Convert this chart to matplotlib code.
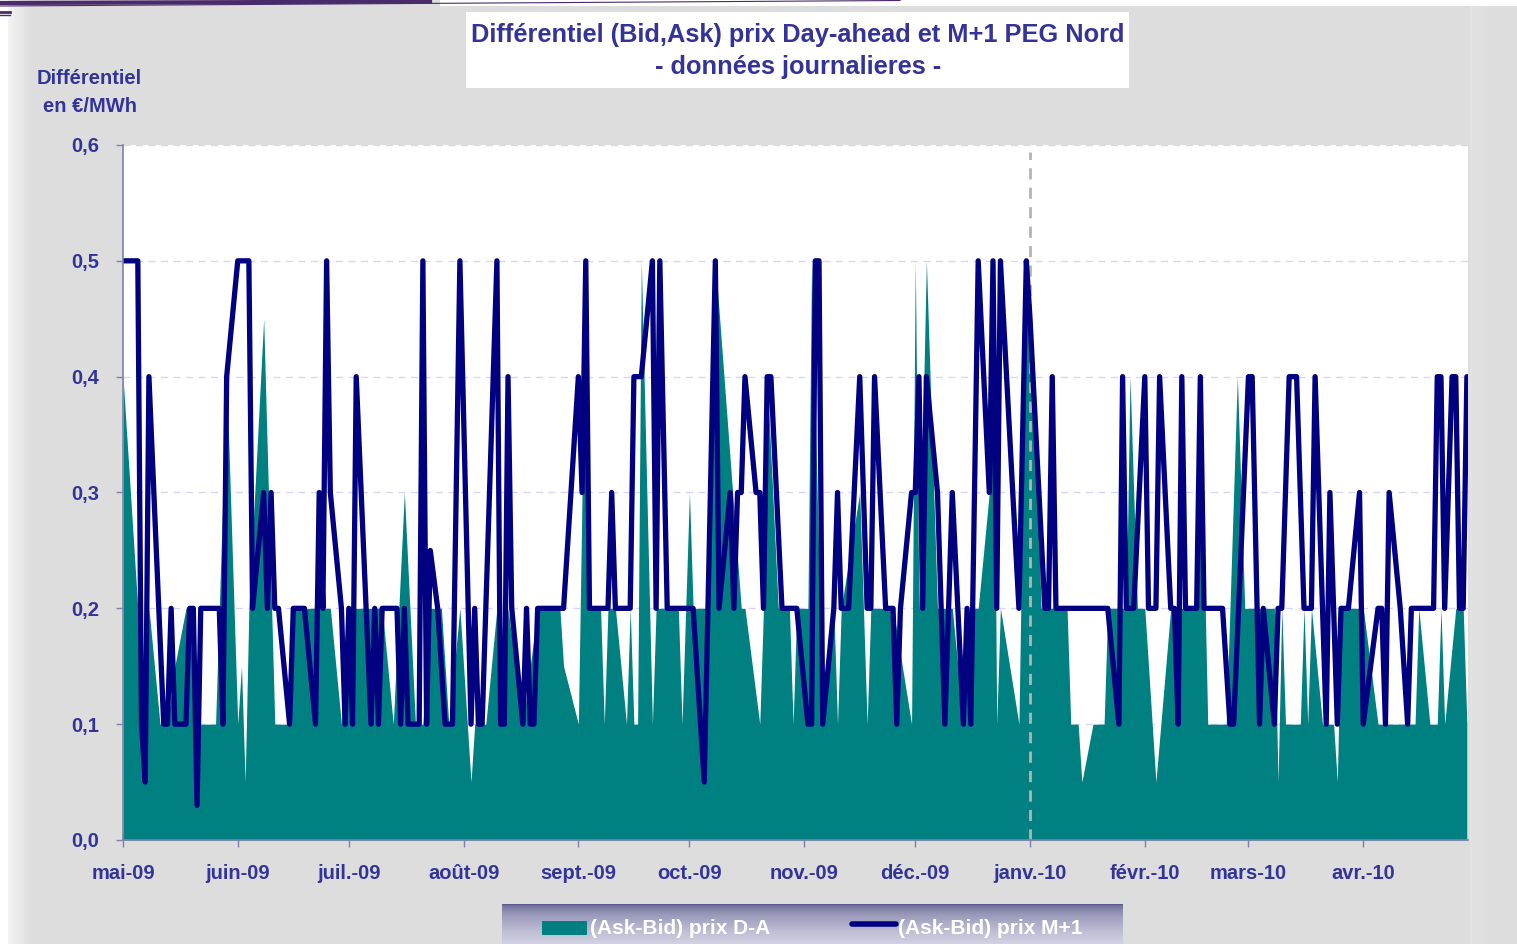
import numpy as np
import matplotlib
matplotlib.use("Agg")
import matplotlib.pyplot as plt
import matplotlib.dates as mdates
from matplotlib.patches import Rectangle
from matplotlib.lines import Line2D

# --- data (day offset from 1 May 2009, value in EUR/MWh) ---
START = np.datetime64("2009-05-01")

M1_DAYS = [0, 4, 5, 6, 7, 11, 12, 13, 14, 17, 18, 19, 20, 21, 26, 27, 28, 31, 34, 35,
           38, 39, 40, 41, 42, 45, 46, 49, 52, 53, 54, 55, 56, 59, 60, 61, 62, 63, 67, 68,
           69, 70, 74, 75, 76, 77, 80, 81, 82, 83, 85, 87, 89, 91, 94, 95, 96, 97, 101, 102,
           103, 104, 105, 108, 109, 110, 111, 112, 119, 123, 124, 125, 126, 131, 132, 133, 137, 138, 140, 143,
           144, 145, 147, 154, 157, 160, 161, 164, 165, 166, 167, 168, 171, 172, 173, 174, 175, 178, 182, 185,
           186, 187, 188, 189, 192, 193, 194, 196, 199, 201, 202, 203, 206, 208, 209, 210, 213, 214, 215, 216,
           217, 220, 222, 224, 227, 228, 229, 231, 234, 235, 236, 237, 242, 244, 245, 249, 250, 251, 252, 266,
           269, 270, 271, 273, 276, 277, 279, 280, 283, 284, 285, 286, 287, 290, 291, 292, 297, 299, 300, 304,
           305, 307, 308, 311, 312, 313, 315, 317, 319, 321, 322, 325, 326, 328, 329, 331, 334, 335, 339, 340,
           341, 342, 345, 347, 348, 354, 355, 356, 357, 359, 360, 361, 362, 363]
M1_VALS = [0.5, 0.5, 0.1, 0.05, 0.4, 0.1, 0.1, 0.2, 0.1, 0.1, 0.2, 0.2, 0.03, 0.2, 0.2, 0.1, 0.4, 0.5, 0.5, 0.2,
           0.3, 0.2, 0.3, 0.2, 0.2, 0.1, 0.2, 0.2, 0.1, 0.3, 0.2, 0.5, 0.3, 0.2, 0.1, 0.2, 0.1, 0.4, 0.1, 0.2,
           0.1, 0.2, 0.2, 0.1, 0.2, 0.1, 0.1, 0.5, 0.1, 0.25, 0.2, 0.1, 0.1, 0.5, 0.1, 0.2, 0.1, 0.1, 0.5, 0.1,
           0.1, 0.4, 0.2, 0.1, 0.2, 0.1, 0.1, 0.2, 0.2, 0.4, 0.3, 0.5, 0.2, 0.2, 0.3, 0.2, 0.2, 0.4, 0.4, 0.5,
           0.2, 0.5, 0.2, 0.2, 0.05, 0.5, 0.2, 0.3, 0.2, 0.3, 0.3, 0.4, 0.3, 0.3, 0.2, 0.4, 0.4, 0.2, 0.2, 0.1,
           0.1, 0.5, 0.5, 0.1, 0.2, 0.3, 0.2, 0.2, 0.4, 0.2, 0.2, 0.4, 0.2, 0.2, 0.1, 0.2, 0.3, 0.3, 0.4, 0.2,
           0.4, 0.3, 0.1, 0.3, 0.1, 0.2, 0.1, 0.5, 0.3, 0.5, 0.2, 0.5, 0.2, 0.5, 0.45, 0.2, 0.2, 0.4, 0.2, 0.2,
           0.1, 0.4, 0.2, 0.2, 0.4, 0.2, 0.2, 0.4, 0.2, 0.2, 0.1, 0.4, 0.2, 0.2, 0.4, 0.2, 0.2, 0.1, 0.1, 0.4,
           0.4, 0.1, 0.2, 0.1, 0.2, 0.2, 0.4, 0.4, 0.2, 0.2, 0.4, 0.1, 0.3, 0.1, 0.2, 0.2, 0.3, 0.1, 0.2, 0.2,
           0.1, 0.3, 0.2, 0.1, 0.2, 0.2, 0.4, 0.4, 0.2, 0.4, 0.4, 0.2, 0.2, 0.4]

DA_DAYS = [0, 4, 5, 6, 7, 10, 12, 14, 17, 19, 20, 21, 25, 28, 31, 32, 33, 34, 38, 41,
           45, 46, 56, 59, 61, 70, 73, 76, 79, 81, 83, 86, 88, 91, 94, 95, 98, 101, 102, 104,
           108, 112, 118, 119, 123, 125, 126, 129, 130, 131, 133, 136, 137, 138, 139, 140, 143, 144, 150, 151,
           153, 154, 158, 160, 167, 168, 172, 173, 174, 177, 180, 181, 182, 185, 186, 189, 192, 193, 194, 199,
           201, 202, 208, 213, 214, 215, 217, 220, 224, 227, 229, 231, 234, 235, 236, 237, 242, 244, 246, 248,
           255, 256, 258, 259, 262, 265, 266, 271, 272, 274, 276, 279, 283, 290, 291, 293, 298, 301, 303, 306,
           311, 312, 313, 314, 318, 319, 320, 321, 324, 327, 328, 329, 332, 335, 339, 349, 350, 353, 355, 356,
           357, 360, 362, 363]
DA_VALS = [0.4, 0.2, 0.1, 0.1, 0.2, 0.1, 0.1, 0.15, 0.2, 0.2, 0.05, 0.1, 0.1, 0.4, 0.1, 0.15, 0.05, 0.2, 0.45, 0.1,
           0.1, 0.2, 0.2, 0.1, 0.2, 0.2, 0.1, 0.3, 0.1, 0.1, 0.2, 0.2, 0.1, 0.2, 0.05, 0.1, 0.1, 0.2, 0.1, 0.2,
           0.1, 0.2, 0.2, 0.15, 0.1, 0.5, 0.2, 0.2, 0.1, 0.2, 0.2, 0.1, 0.2, 0.1, 0.1, 0.5, 0.1, 0.2, 0.2, 0.1,
           0.3, 0.2, 0.2, 0.5, 0.2, 0.2, 0.1, 0.2, 0.4, 0.2, 0.2, 0.1, 0.2, 0.2, 0.5, 0.1, 0.2, 0.1, 0.2, 0.3,
           0.1, 0.2, 0.2, 0.1, 0.5, 0.2, 0.5, 0.2, 0.2, 0.1, 0.2, 0.2, 0.3, 0.5, 0.1, 0.2, 0.1, 0.5, 0.4, 0.2,
           0.2, 0.1, 0.1, 0.05, 0.1, 0.1, 0.2, 0.2, 0.4, 0.2, 0.2, 0.05, 0.2, 0.2, 0.4, 0.1, 0.1, 0.4, 0.2, 0.2,
           0.2, 0.05, 0.2, 0.1, 0.1, 0.2, 0.1, 0.2, 0.1, 0.1, 0.05, 0.2, 0.2, 0.2, 0.1, 0.1, 0.2, 0.1, 0.1, 0.2,
           0.1, 0.2, 0.2, 0.1]

MONTH_LABELS = ["mai-09", "juin-09", "juil.-09", "août-09", "sept.-09", "oct.-09",
                "nov.-09", "déc.-09", "janv.-10", "févr.-10", "mars-10", "avr.-10"]
Y_TICKS = [0.0, 0.1, 0.2, 0.3, 0.4, 0.5, 0.6]

TITLE = "Différentiel (Bid,Ask) prix Day-ahead et M+1 PEG Nord"
SUBTITLE = "- données journalieres -"
LABEL_DA = "(Ask-Bid) prix D-A"
LABEL_M1 = "(Ask-Bid) prix M+1"

TEAL = "#008080"
NAVY = "#000080"
TEXT = "#333399"
AXIS = "#8080aa"

W, H = 1517, 944


def fx(px):
    return px / W


def fy(py):
    return 1 - py / H


def to_num(days):
    return mdates.date2num(START + np.array(days).astype("timedelta64[D]"))


plt.rcParams["font.family"] = ["Liberation Sans", "DejaVu Sans"]
plt.rcParams["font.weight"] = "bold"

fig = plt.figure(figsize=(W / 100, H / 100), dpi=100)

# background: light grey slide with a faint lighter edge on the left
bg = np.full((H, W), 0.866)
bg[:, 8:32] = np.linspace(0.95, 0.866, 24)
bg[:, :8] = 1.0
bg[:6, 440:] = 1.0
bg[6:, 1470:1490] = np.linspace(0.885, 0.866, 20)
bax = fig.add_axes([0, 0, 1, 1], zorder=-10)
bax.imshow(bg, cmap="gray", vmin=0, vmax=1, aspect="auto", interpolation="bilinear")
bax.axis("off")

# slide decoration at top-left
for (x0, y0, x1, y1, lw) in [(0, 3, 430, 1.5, 3), (0, 6, 900, 0.5, 0.8),
                             (0, 12, 10, 12, 2), (0, 15, 10, 15, 1)]:
    fig.add_artist(Line2D([fx(x0), fx(x1)], [fy(y0), fy(y1)], color="#4a2a6a", lw=lw))

# main plot
ax = fig.add_axes([fx(123), fy(840), fx(1468) - fx(123), fy(145) - fy(840)])
ax.set_facecolor("white")

ax.fill_between(to_num(DA_DAYS), DA_VALS, 0, color=TEAL, lw=0, zorder=2)
jan = to_num([245])[0]
ax.axvline(jan, ymax=0.99, color="#b4b4b4", lw=2, ls=(0, (4, 3)), zorder=3)
ax.plot(to_num(M1_DAYS), M1_VALS, color=NAVY, lw=3.8, solid_joinstyle="round",
        solid_capstyle="round", zorder=4)

ax.set_xlim(to_num([0])[0], to_num([0])[0] + 363.3)
ax.set_ylim(0, 0.6)

ax.set_yticks(Y_TICKS)
ax.set_yticklabels([f"{v:.1f}".replace(".", ",") for v in Y_TICKS])
months = np.arange(np.datetime64("2009-05"), np.datetime64("2010-05"), dtype="datetime64[M]")
ax.set_xticks(mdates.date2num(months.astype("datetime64[D]")))
ax.set_xticklabels(MONTH_LABELS)

ax.yaxis.grid(True, color="#d6d6f6", lw=1, ls=(0, (5, 4)), zorder=1)
ax.set_axisbelow(True)
for s in ["top", "right"]:
    ax.spines[s].set_visible(False)
for s in ["left", "bottom"]:
    ax.spines[s].set_color(AXIS)
    ax.spines[s].set_linewidth(1.2)
    ax.spines[s].set_zorder(5)

ax.tick_params(axis="y", direction="out", length=5, width=1, color=AXIS, pad=12,
               labelsize=14.5, labelcolor=TEXT)
ax.tick_params(axis="x", direction="inout", length=10, width=1, color=AXIS, pad=12,
               labelsize=14.5, labelcolor=TEXT)

# title box
fig.add_artist(Rectangle((fx(466), fy(88)), fx(1129) - fx(466), fy(12) - fy(88),
                         transform=fig.transFigure, facecolor="white", edgecolor="none"))
fig.text(fx(798), fy(35), TITLE, ha="center", va="center", fontsize=18.3, color=TEXT)
fig.text(fx(798), fy(67), SUBTITLE, ha="center", va="center", fontsize=18.3, color=TEXT)

# y axis caption
fig.text(fx(89), fy(79), "Différentiel", ha="center", va="center", fontsize=14.5, color=TEXT)
fig.text(fx(90), fy(106), "en €/MWh", ha="center", va="center", fontsize=14.5, color=TEXT)

# legend band at the bottom with a vertical gradient
lax = fig.add_axes([fx(502), 0, fx(1123) - fx(502), fy(904)], zorder=5)
t = np.linspace(0, 1, 40) ** 0.5
top = np.array([0.36, 0.36, 0.55])
low = np.array([0.82, 0.82, 0.89])
grad = (top[None, :] * (1 - t[:, None]) + low[None, :] * t[:, None])[:, None, :]
lax.imshow(grad, aspect="auto", extent=[0, 1, 0, 1], interpolation="bilinear")
lax.set_xlim(0, 1)
lax.set_ylim(0, 1)
lax.axis("off")

fig.add_artist(Rectangle((fx(542), fy(935)), fx(587) - fx(542), fy(921) - fy(935),
                         transform=fig.transFigure, facecolor=TEAL, edgecolor="none", zorder=6))
fig.text(fx(590), fy(928), LABEL_DA, ha="left", va="center", fontsize=15, color="white", zorder=6)
fig.add_artist(Line2D([fx(852), fx(896)], [fy(924), fy(924)], color=NAVY, lw=4,
                      solid_capstyle="round", zorder=6))
fig.text(fx(898), fy(928), LABEL_M1, ha="left", va="center", fontsize=15, color="white", zorder=6)

fig.savefig("out.png", dpi=100)
